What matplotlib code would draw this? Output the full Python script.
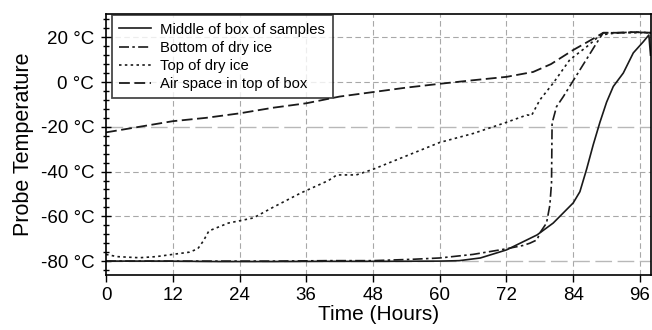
import matplotlib.pyplot as plt
import numpy as np

plt.rcParams['font.family'] = ['Liberation Sans', 'DejaVu Sans']

# ________DANE_(odczytane_z_wykresu)________________________________
middle_h = [0, 10, 20, 30, 40, 50, 60, 63.5, 67.3, 72, 77.5, 80.4, 84, 85.2, 86.4,
            87.6, 88.8, 90, 91.2, 93, 94.8, 96.6, 97.6, 97.9]
middle_t = [-80, -80, -80.2, -80.2, -80.1, -80.1, -80, -79.8, -78.6, -75, -68.3, -63, -54, -49, -39,
            -28, -18, -9, -2, 4, 13, 18, 21, 12]

bottom_h = [0, 10, 20, 30, 40, 48, 55, 60, 66, 72, 75, 76.2, 77.5, 78, 79.2, 79.8, 80.1, 80.2,
            81, 82.2, 85.2, 88.2, 89.4, 92, 95, 98]
bottom_t = [-80, -80, -80, -80, -79.8, -79.8, -79.2, -78.6, -77, -74.5, -73, -72, -70.5, -67.4, -63,
            -55, -45, -18.4, -11, -6.6, 5.4, 17.4, 22, 22, 22.3, 22]

top_h = [0, 2, 6, 9, 12, 15, 16.5, 17.5, 18.5, 20, 22, 24, 26.5, 30, 35, 40, 41.5, 45, 48,
         54, 60, 66, 72, 75.7, 76.5, 78, 80.4, 83.4, 86.4, 88.9, 92, 95, 98]
top_t = [-77, -78, -78.5, -78, -77, -76, -74.5, -71, -66.5, -65, -63, -62, -60.7, -56, -49.6, -44, -41.5, -41.5, -39,
         -33, -27, -23, -18, -14.7, -15, -8, -0.5, 10, 15.7, 21, 22, 22, 22]

air_h = [0, 6, 12, 18, 24, 30, 36, 42, 48, 54, 60, 66, 72, 76.8, 80, 84, 87, 89.4, 92, 95, 98]
air_t = [-22.5, -20, -17.5, -16, -14, -11.5, -9.5, -6.5, -4.5, -2.5, -0.8, 0.8, 2.3, 4.5, 8, 14.3, 18.5, 22, 22, 22.3, 22]

x_ticks = np.arange(0, 97, 12)
y_ticks = np.arange(-80, 21, 20)
y_labels = ['{} °C'.format(v) for v in y_ticks]

# ________WYKRES________________________________
fig = plt.figure(figsize=(6.52, 3.30), dpi=100)
ax = fig.add_axes([0.1626, 0.1667, 0.836, 0.791])

grid_kw = dict(color='#a8a8a8', linewidth=0.8, dashes=(5, 3), zorder=0)
for xv in x_ticks[1:]:
    ax.axvline(xv, **grid_kw)
for yv in [20, 0, -40, -60]:
    ax.axhline(yv, **grid_kw)
for yv in [-20, -80]:
    ax.axhline(yv, color='#b8b8b8', linewidth=1.0, dashes=(12, 4), zorder=0)

ax.plot(middle_h, middle_t, '-', color='#1a1a1a', linewidth=1.2, label='Middle of box of samples')
ax.plot(bottom_h, bottom_t, color='#1a1a1a', linewidth=1.2, dashes=(6, 2, 1.5, 2), label='Bottom of dry ice')
ax.plot(top_h, top_t, color='#1a1a1a', linewidth=1.2, dashes=(1.5, 2), label='Top of dry ice')
ax.plot(air_h, air_t, color='#1a1a1a', linewidth=1.3, dashes=(6, 2.5), label='Air space in top of box')

ax.set_xlim(0, 98)
ax.set_ylim(-86.2, 30.4)
ax.set_xticks(x_ticks)
ax.set_yticks(y_ticks)
ax.set_yticklabels(y_labels)
ax.set_yticks(np.arange(-84, 29, 4), minor=True)
ax.tick_params(axis='y', which='major', direction='inout', length=7, width=1, labelsize=13.5, pad=5)
ax.tick_params(axis='y', which='minor', direction='inout', length=5, width=1)
ax.tick_params(axis='x', which='major', direction='out', length=5, width=1, labelsize=13.5)
for s in ax.spines.values():
    s.set_linewidth(1.2)

ax.set_xlabel('Time (Hours)', fontsize=15, labelpad=1)
ax.set_ylabel('Probe Temperature', fontsize=15.5, labelpad=5)

leg = ax.legend(loc='upper left', bbox_to_anchor=(0.011, 0.995), fontsize=10.7, frameon=True,
                fancybox=False, edgecolor='#1a1a1a', borderpad=0.5, labelspacing=0.27,
                handlelength=2.1, handletextpad=0.65, borderaxespad=0)
leg.get_frame().set_linewidth(1.3)

plt.savefig('out.png', dpi=100)
